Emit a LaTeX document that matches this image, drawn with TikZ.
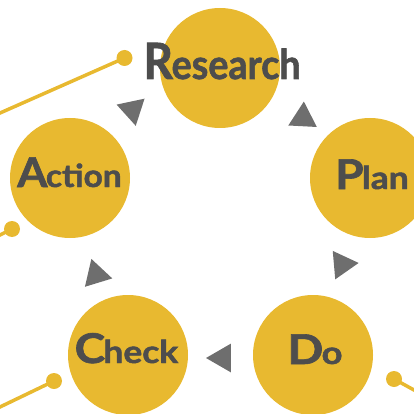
\documentclass[tikz,border=0pt]{standalone}
\usepackage{fontspec}
\usepackage{graphicx}
\setmainfont{Lato}[BoldFeatures={FakeBold=1.5}]
\usetikzlibrary{shapes.geometric}
\definecolor{gold}{HTML}{E8B930}
\definecolor{ink}{HTML}{4D4D4D}
\definecolor{arrowgray}{HTML}{6E6E6E}
\newcommand{\stagelabel}[5]{\scalebox{#1}[1]{{\fontsize{#2pt}{#2pt}\selectfont #4}\kern-1.5pt{\fontsize{#3pt}{#3pt}\selectfont #5}}}
\begin{document}
\begin{tikzpicture}[x=1pt,y=-1pt,
  stage/.style={circle, fill=gold, minimum size=120pt, inner sep=0pt},
  lbl/.style={text=ink, anchor=base, inner sep=0pt, font=\bfseries},
  tri/.style={regular polygon, regular polygon sides=3, fill=arrowgray, minimum size=33pt, inner sep=0pt},
  lead/.style={draw=gold, line width=3.5pt},
  dotend/.style={circle, fill=gold, minimum size=16pt, inner sep=0pt}]
\useasboundingbox (0,0) rectangle (414,414);
\clip (0,0) rectangle (414,414);
% leader lines
\coordinate (e1) at (-40,130.7);
\coordinate (e2) at (-20,245);
\coordinate (e3) at (-20,416.6);
\coordinate (e4) at (434,401);
\node[dotend] (d1) at (124.5,58) {};
\node[dotend] (d2) at (12,229) {};
\node[dotend] (d3) at (54,381) {};
\node[dotend] (d4) at (394,379) {};
\draw[lead] (d1.center) -- (e1);
\draw[lead] (d2.center) -- (e2);
\draw[lead] (d3.center) -- (e3);
\draw[lead] (d4.center) -- (e4);
% circles
\node[stage] (research) at (220,68) {};
\node[stage] (plan) at (370,178) {};
\node[stage] (do) at (313,355) {};
\node[stage] (check) at (128,355) {};
\node[stage] (action) at (70,178) {};
% labels
\node[lbl] (researchtxt) at (222,79) {\stagelabel{0.92}{50}{41}{R}{esearch}};
\node[lbl] (plantxt) at (372,189) {\stagelabel{1.12}{41}{31.6}{P}{lan}};
\node[lbl] (dotxt) at (315,364) {\stagelabel{1.15}{41}{31.6}{D}{o}};
\node[lbl] (checktxt) at (126.5,363) {\stagelabel{1.12}{41}{31.6}{C}{heck}};
\node[lbl] (actiontxt) at (69.5,187) {\stagelabel{1.06}{41}{31.6}{A}{ction}};
% triangles
\node[tri, rotate=-3] (t1) at (303,118) {};
\node[tri, rotate=155] (t2) at (342.2,264.4) {};
\node[tri, rotate=90] (t3) at (222.5,358) {};
\node[tri, rotate=17] (t4) at (96.2,274.7) {};
\node[tri, rotate=-48] (t5) at (132.3,109.7) {};
\end{tikzpicture}
\end{document}
